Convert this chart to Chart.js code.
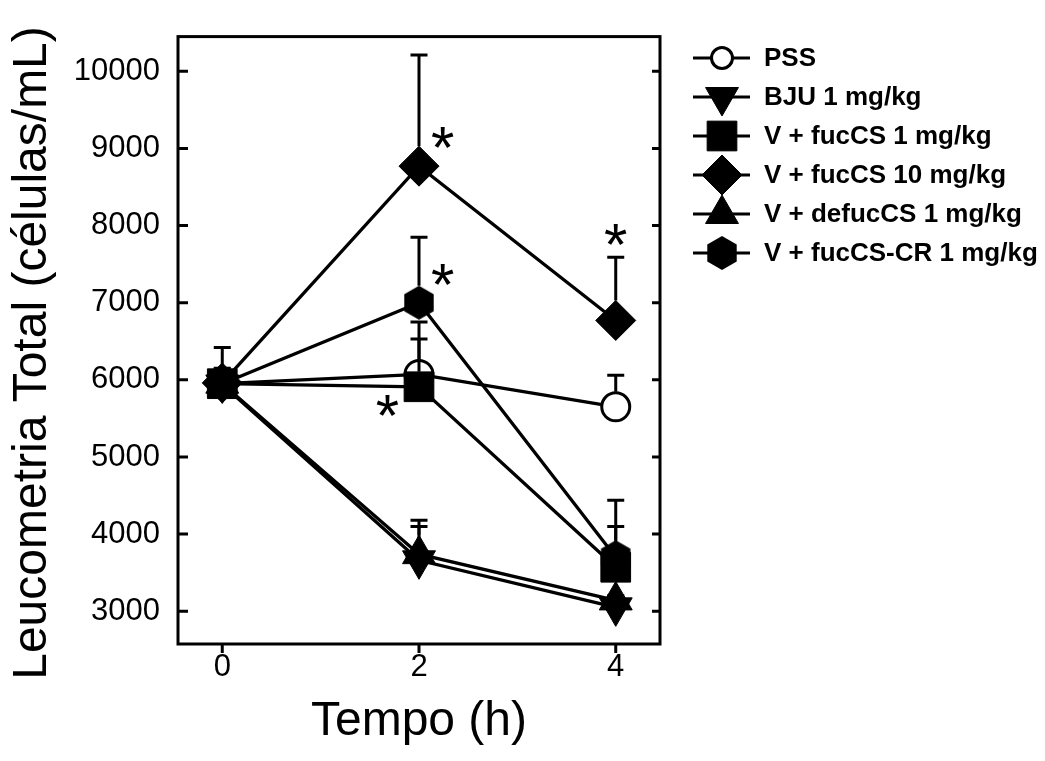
<!DOCTYPE html>
<html>
<head>
<meta charset="utf-8">
<script src="https://cdn.jsdelivr.net/npm/chart.js@4.4.0/dist/chart.umd.min.js"></script>
<style>
  html, body { margin: 0; padding: 0; background: #fff; }
</style>
</head>
<body>
<canvas id="chart" width="1045" height="761"></canvas>
<script>
const times = [0, 2, 4]
const xTicks = [0, 2, 4]
const yTicks = [3000, 4000, 5000, 6000, 7000, 8000, 9000, 10000]

const seriesNames = ['PSS', 'BJU 1 mg/kg', 'V + fucCS 1 mg/kg', 'V + fucCS 10 mg/kg', 'V + defucCS 1 mg/kg', 'V + fucCS-CR 1 mg/kg']
const xTitle = 'Tempo (h)'
const yTitle = 'Leucometria Total (células/mL)'

// means and upper error (SEM) per time point
const pss = [5950, 6070, 5650]
const pssErr = [470, 680, 410]
const bju = [5940, 3660, 3050]
const bjuErr = [200, 440, 150]
const fucCS1 = [5950, 5910, 3570]
const fucCS1Err = [200, 620, 530]
const fucCS10 = [5960, 8770, 6770]
const fucCS10Err = [200, 1440, 820]
const defucCS = [5950, 3740, 3140]
const defucCSErr = [200, 440, 150]
const fucCSCR = [5950, 7000, 3700]
const fucCSCRErr = [200, 850, 740]

// significance marks (x, y in data units)
const stars = [
  { x: 2.24, y: 9110 },
  { x: 2.24, y: 7330 },
  { x: 4.0, y: 7850 },
  { x: 1.68, y: 5640 }
]

const values = [pss, bju, fucCS1, fucCS10, defucCS, fucCSCR]
const errors = [pssErr, bjuErr, fucCS1Err, fucCS10Err, defucCSErr, fucCSCRErr]

const FONT = "'Liberation Sans', Arial, sans-serif"

function makeHexagon (r) {
  const w = Math.ceil(Math.sqrt(3) * r) + 2
  const h = Math.ceil(2 * r) + 2
  const c = document.createElement('canvas')
  c.width = w
  c.height = h
  const g = c.getContext('2d')
  g.beginPath()
  for (let k = 0; k < 6; k++) {
    const a = Math.PI / 2 + k * Math.PI / 3
    const px = w / 2 + r * Math.cos(a)
    const py = h / 2 - r * Math.sin(a)
    k ? g.lineTo(px, py) : g.moveTo(px, py)
  }
  g.closePath()
  g.fillStyle = '#000'
  g.fill()
  return c
}

const hexImg = makeHexagon(17)

// marker looks; lift = distance from centre to marker top (error bar start)
const styles = [
  { pointStyle: 'circle', radius: 14, rotation: 0, bg: '#fff', bw: 3, lift: 15, legendRadius: 10.5 },
  { pointStyle: 'triangle', radius: 19, rotation: 180, bg: '#000', bw: 1, lift: 10, legendRadius: 19 },
  { pointStyle: 'rect', radius: 21, rotation: 0, bg: '#000', bw: 1, lift: 15, legendRadius: 21 },
  { pointStyle: 'rectRot', radius: 20, rotation: 0, bg: '#000', bw: 1, lift: 20, legendRadius: 20 },
  { pointStyle: 'triangle', radius: 19, rotation: 0, bg: '#000', bw: 1, lift: 19, legendRadius: 19 },
  { pointStyle: hexImg, radius: 17, rotation: 0, bg: '#000', bw: 0, lift: 17, legendRadius: 17 }
]

const datasets = values.map((vals, i) => ({
  label: seriesNames[i],
  data: vals.map((v, j) => ({ x: times[j], y: v })),
  borderColor: '#000',
  borderWidth: 3.3,
  pointStyle: styles[i].pointStyle,
  pointRadius: styles[i].radius,
  pointRotation: styles[i].rotation,
  pointBackgroundColor: styles[i].bg,
  pointBorderColor: '#000',
  pointBorderWidth: styles[i].bw,
  order: 6 - i,
  clip: false
}))

const framePlugin = {
  id: 'frame',
  beforeDatasetsDraw (chart) {
    const { ctx, chartArea: a, scales } = chart
    ctx.save()
    ctx.strokeStyle = '#000'
    ctx.lineWidth = 3
    ctx.lineCap = 'square'
    ctx.strokeRect(a.left, a.top, a.right - a.left, a.bottom - a.top)
    ctx.lineCap = 'butt'
    ctx.beginPath()
    yTicks.forEach(v => {
      const y = scales.y.getPixelForValue(v)
      ctx.moveTo(a.left, y); ctx.lineTo(a.left + 10, y)
      ctx.moveTo(a.right, y); ctx.lineTo(a.right - 8, y)
    })
    xTicks.forEach(v => {
      const x = scales.x.getPixelForValue(v)
      ctx.moveTo(x, a.bottom); ctx.lineTo(x, a.bottom + 9)
    })
    ctx.stroke()

    // y axis title, centred a little below the plot middle like the original
    ctx.fillStyle = '#000'
    ctx.font = '48px ' + FONT
    ctx.textAlign = 'center'
    ctx.textBaseline = 'middle'
    ctx.translate(33, 353)
    ctx.rotate(-Math.PI / 2)
    ctx.fillText(yTitle, 0, 0)
    ctx.restore()
  }
}

const errorPlugin = {
  id: 'errorbars',
  afterDatasetsDraw (chart) {
    const { ctx, scales } = chart
    ctx.save()
    ctx.strokeStyle = '#000'
    ctx.lineWidth = 3
    errors.forEach((errs, i) => {
      const meta = chart.getDatasetMeta(i)
      meta.data.forEach((pt, j) => {
        const top = scales.y.getPixelForValue(values[i][j] + errs[j])
        const start = pt.y - styles[i].lift
        if (top >= start) return
        ctx.beginPath()
        ctx.moveTo(pt.x, start); ctx.lineTo(pt.x, top)
        ctx.moveTo(pt.x - 8.5, top); ctx.lineTo(pt.x + 8.5, top)
        ctx.stroke()
      })
    })
    ctx.restore()
  }
}

const starPlugin = {
  id: 'stars',
  afterDatasetsDraw (chart) {
    const { ctx, scales } = chart
    const size = 60
    ctx.save()
    ctx.fillStyle = '#000'
    ctx.font = size + 'px ' + FONT
    ctx.textAlign = 'center'
    ctx.textBaseline = 'alphabetic'
    stars.forEach(s => {
      ctx.fillText('*', scales.x.getPixelForValue(s.x), scales.y.getPixelForValue(s.y) + 0.47 * size)
    })
    ctx.restore()
  }
}

const legendPlugin = {
  id: 'sideLegend',
  afterDraw (chart) {
    const { ctx } = chart
    ctx.save()
    seriesNames.forEach((name, i) => {
      const y = 58 + i * 39
      ctx.strokeStyle = '#000'
      ctx.lineWidth = 3
      ctx.beginPath()
      ctx.moveTo(693, y); ctx.lineTo(750, y)
      ctx.stroke()
      const st = styles[i]
      ctx.fillStyle = st.bg
      ctx.lineWidth = st.bw
      Chart.helpers.drawPoint(ctx, {
        pointStyle: st.pointStyle,
        rotation: st.rotation,
        radius: st.legendRadius,
        borderWidth: st.bw
      }, 722, y)
      ctx.fillStyle = '#000'
      ctx.font = 'bold 26px ' + FONT
      ctx.textAlign = 'left'
      ctx.textBaseline = 'middle'
      ctx.fillText(name, 764, y + 1)
    })
    ctx.restore()
  }
}

new Chart(document.getElementById('chart'), {
  type: 'line',
  data: { datasets },
  options: {
    responsive: false,
    animation: false,
    devicePixelRatio: 1,
    layout: { padding: { left: 0, top: 36, right: 385, bottom: 0 } },
    plugins: { legend: { display: false }, tooltip: { enabled: false } },
    scales: {
      x: {
        type: 'linear',
        min: -0.45,
        max: 4.45,
        afterBuildTicks: s => { s.ticks = xTicks.map(v => ({ value: v })) },
        afterFit: s => { s.height = 117 },
        grid: { display: false, drawTicks: false },
        border: { display: false },
        ticks: { color: '#000', padding: 5, font: { family: FONT, size: 31 }, callback: v => String(v) },
        title: { display: true, text: xTitle, color: '#000', padding: { top: 4, bottom: 10 }, font: { family: FONT, size: 48 } }
      },
      y: {
        type: 'linear',
        min: 2575,
        max: 10450,
        afterBuildTicks: s => { s.ticks = yTicks.map(v => ({ value: v })) },
        afterFit: s => { s.width = 178 },
        grid: { display: false, drawTicks: false },
        border: { display: false },
        ticks: { color: '#000', padding: 18, font: { family: FONT, size: 31 }, callback: v => String(v) },
        title: { display: false }
      }
    }
  },
  plugins: [framePlugin, errorPlugin, starPlugin, legendPlugin]
})
</script>
</body>
</html>
